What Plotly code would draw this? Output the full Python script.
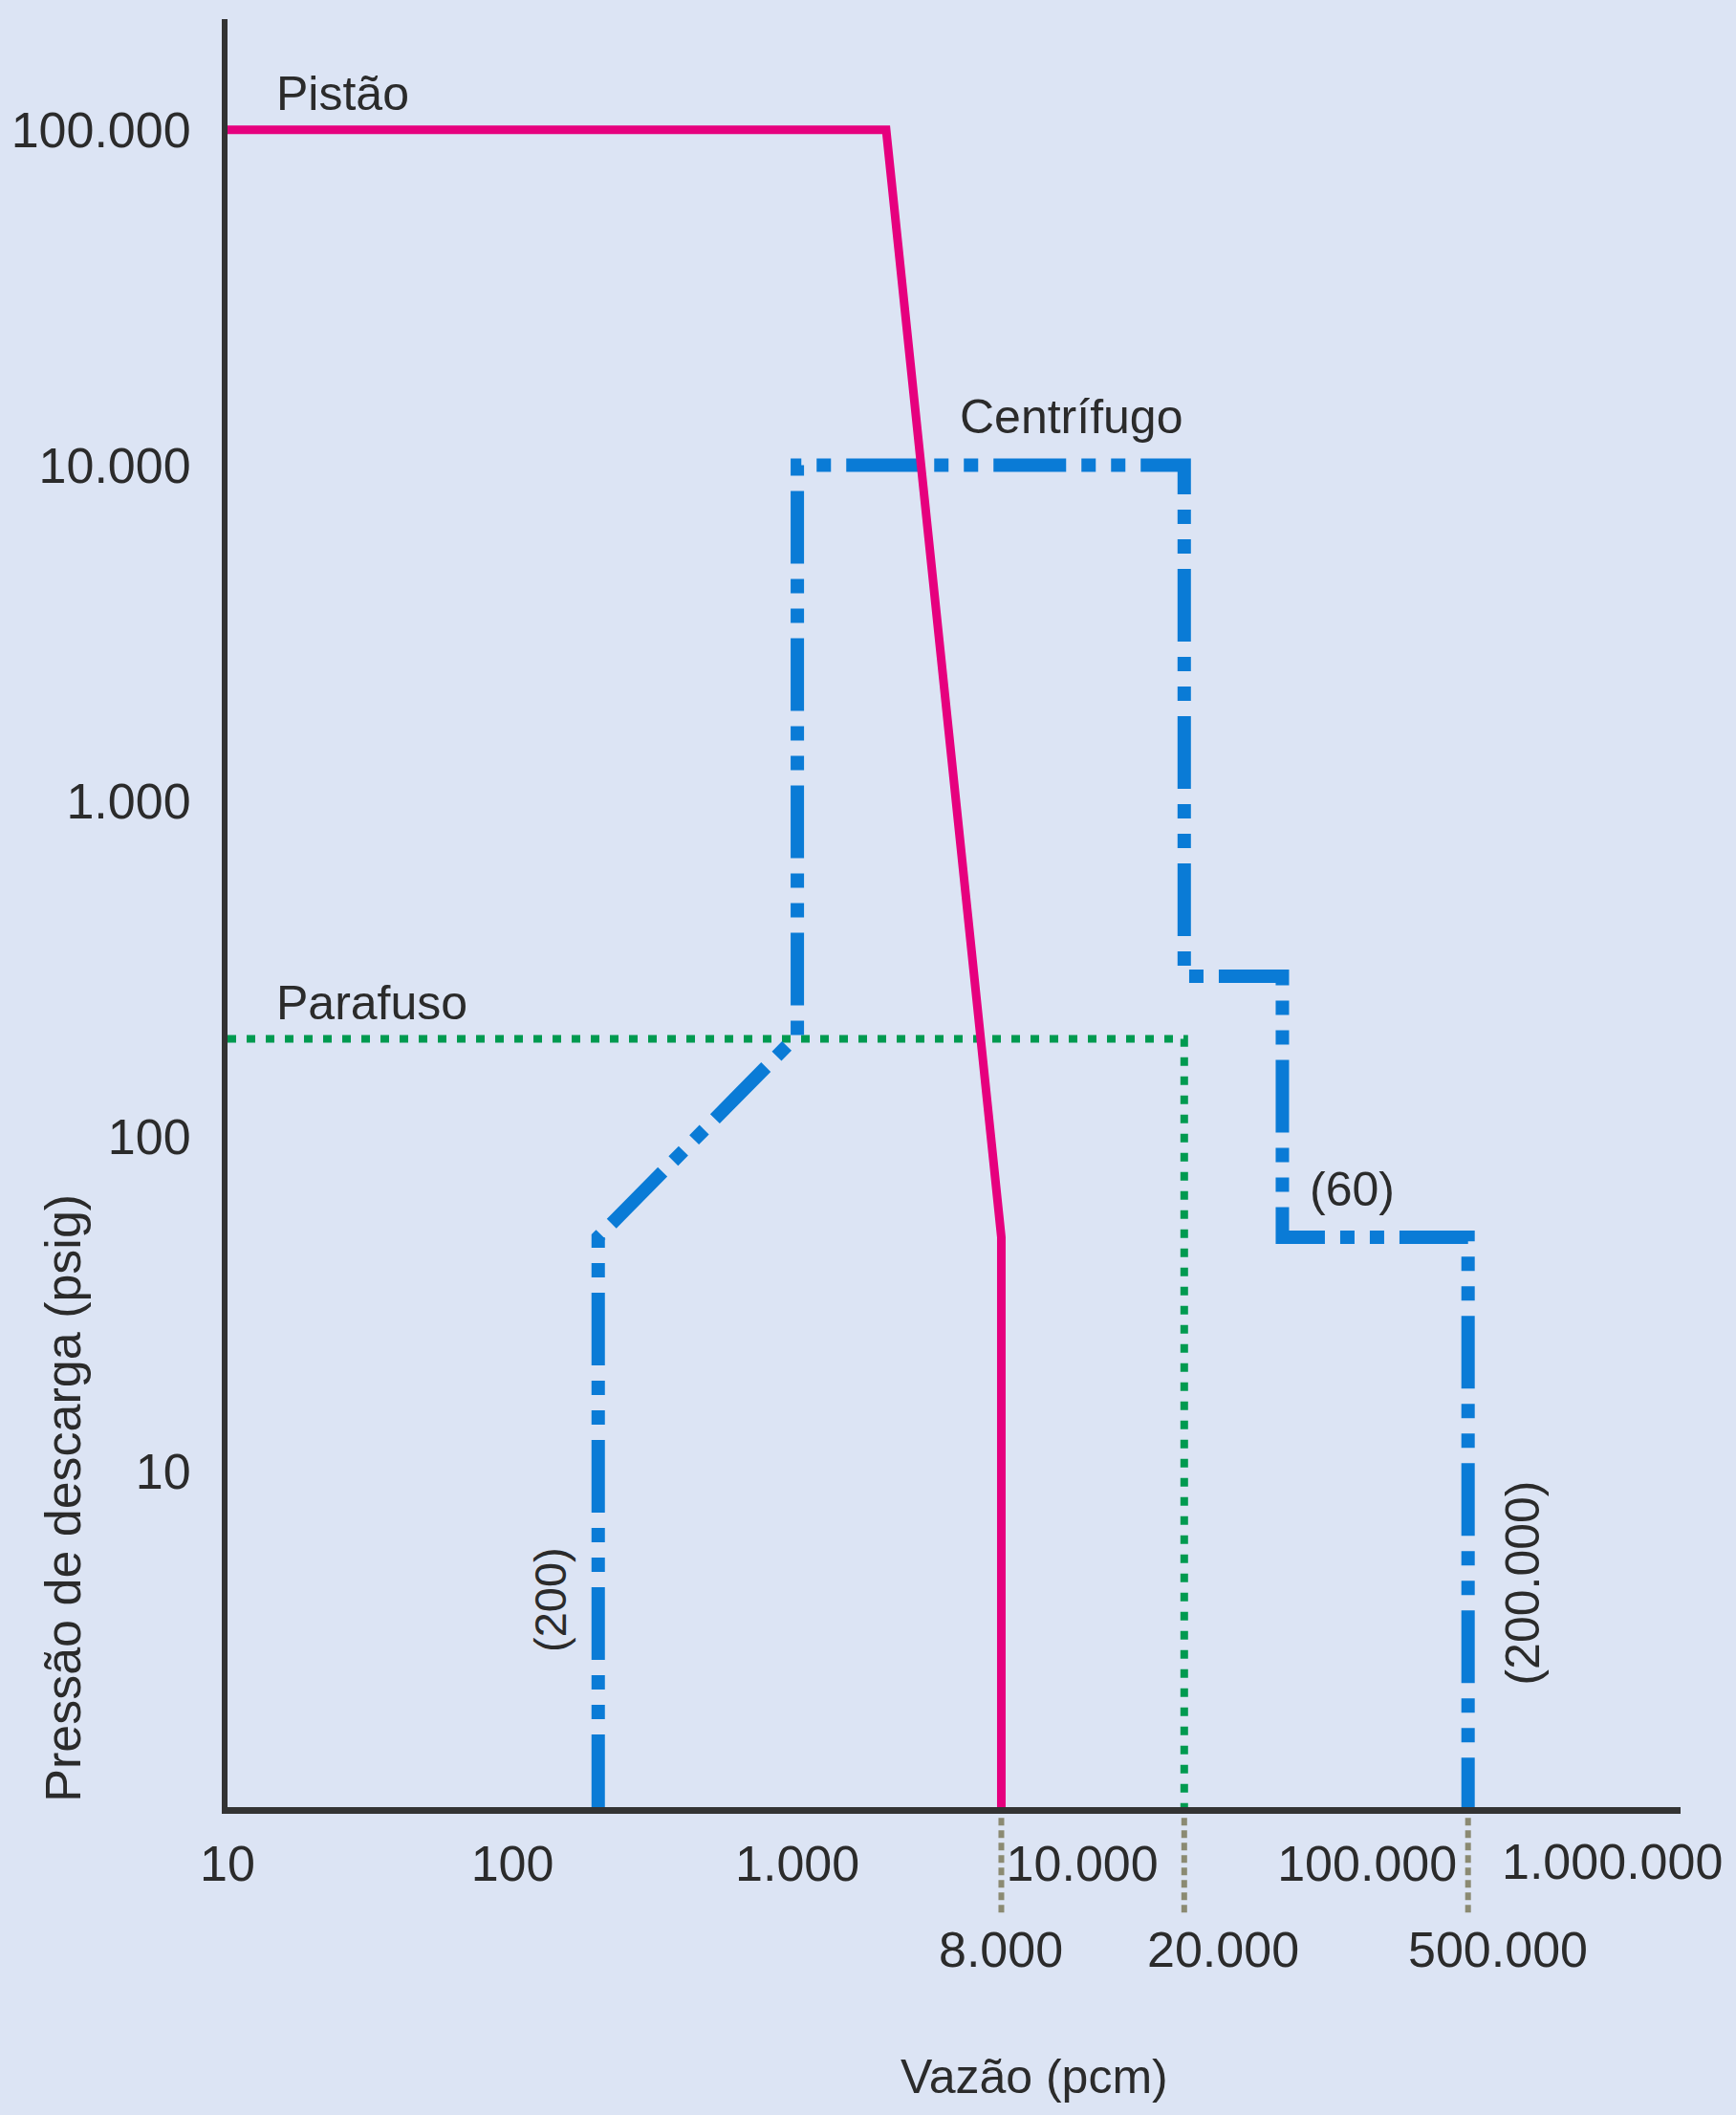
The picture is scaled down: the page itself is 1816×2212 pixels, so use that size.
import math
import plotly.graph_objects as go

# ---------------- data ----------------
pistao_flow = [10, 2050, 5200, 5200]
pistao_pressure = [100000, 100000, 50, 1]

centrifugo_flow = [200, 200, 1000, 1000, 22800, 22800, 50400, 50400, 226000, 226000]
centrifugo_pressure = [1, 50, 200, 10000, 10000, 300, 300, 50, 50, 1]

parafuso_flow = [10, 22800, 22800]
parafuso_pressure = [195, 195, 1]

y_tick_values = [10, 100, 1000, 10000, 100000]
y_tick_labels = ["10", "100", "1.000", "10.000", "100.000"]
x_tick_values = [10, 100, 1000, 10000, 100000, 1000000]
x_tick_labels = ["10", "100", "1.000", "10.000", "100.000", "1.000.000"]

marker_flows = [5200, 22800, 226000]
marker_labels = ["8.000", "20.000", "500.000"]

# ---------------- style ----------------
BG = "#dce4f4"
PINK = "#e6007e"
BLUE = "#0a7bd6"
GREEN = "#009a50"
AXIS = "#333333"
TEXT = "#2b2b2b"
GRAY = "#8b8a72"
FONT = "Liberation Sans, Arial, sans-serif"

fig = go.Figure()

fig.add_trace(go.Scatter(
    x=parafuso_flow, y=parafuso_pressure, mode="lines", name="Parafuso",
    line=dict(color=GREEN, width=8, dash="9px,11px"), hoverinfo="x+y"))
fig.add_trace(go.Scatter(
    x=centrifugo_flow, y=centrifugo_pressure, mode="lines", name="Centrífugo",
    line=dict(color=BLUE, width=14, dash="76px,16px,15px,16px,15px,16px"), hoverinfo="x+y"))
fig.add_trace(go.Scatter(
    x=pistao_flow, y=pistao_pressure, mode="lines", name="Pistão",
    line=dict(color=PINK, width=9), hoverinfo="x+y"))

ann = []
def label(text, x, y, xanchor="center", angle=0, size=50):
    ann.append(dict(text=text, x=x, y=y, xref="x", yref="y", showarrow=False,
                    xanchor=xanchor, yanchor="middle", textangle=angle,
                    font=dict(family=FONT, size=size, color=TEXT)))

label("Pistão", 1.164, 5.108, xanchor="left")
label("Centrífugo", 3.565, 4.145, xanchor="left")
label("Parafuso", 1.164, 2.396, xanchor="left")
label("(60)", 4.946, 1.84)
label("(200)", 2.130, 0.618, angle=-90, size=47)
label("(200.000)", 5.545, 0.667, angle=-90)

# marker labels below the axis
shifts = [0, 41, 31]
for fx, txt, sh in zip(marker_flows, marker_labels, shifts):
    ann.append(dict(text=txt, x=math.log10(fx), y=-0.0797, xref="x", yref="paper",
                    xshift=sh, showarrow=False, xanchor="center", yanchor="middle",
                    font=dict(family=FONT, size=52, color=TEXT)))
    fig.add_shape(type="line", xref="x", yref="paper", x0=fx, x1=fx,
                  y0=-0.006, y1=-0.061,
                  line=dict(color=GRAY, width=6, dash="8px,5px"))

# last x tick label, moved left to fit in the page
ann.append(dict(text=x_tick_labels[-1], x=math.log10(x_tick_values[-1]), y=-0.0305,
                xref="x", yref="paper", xshift=-42, showarrow=False,
                xanchor="center", yanchor="middle",
                font=dict(family=FONT, size=52, color=TEXT)))

# axis titles
ann.append(dict(text="Pressão de descarga (psig)", x=-0.113, y=0.173, xref="paper",
                yref="paper", showarrow=False, textangle=-90, xanchor="center",
                yanchor="middle", font=dict(family=FONT, size=52, color=TEXT)))
ann.append(dict(text="Vazão (pcm)", x=0.555, y=-0.151, xref="paper", yref="paper",
                showarrow=False, xanchor="center", yanchor="middle",
                font=dict(family=FONT, size=50, color=TEXT)))

fig.update_layout(
    width=1816, height=2212,
    margin=dict(l=233, r=58, t=20, b=322),
    paper_bgcolor=BG, plot_bgcolor=BG,
    showlegend=False,
    annotations=ann,
    xaxis=dict(type="log", range=[1, 6.1], tickvals=x_tick_values[:-1],
               ticktext=x_tick_labels[:-1], showgrid=False, zeroline=False,
               showline=True, linecolor=AXIS, linewidth=7, ticks="",
               ticklabelstandoff=8,
               tickfont=dict(family=FONT, size=52, color=TEXT)),
    yaxis=dict(type="log", range=[0, 5.33], tickvals=y_tick_values,
               ticktext=y_tick_labels, showgrid=False, zeroline=False,
               showline=True, linecolor=AXIS, linewidth=6, ticks="",
               ticklabelstandoff=22,
               tickfont=dict(family=FONT, size=52, color=TEXT)),
)

fig.write_html("out.html", config={"displayModeBar": False},
               post_script="document.body.style.margin='0';document.body.style.overflow='hidden';")
